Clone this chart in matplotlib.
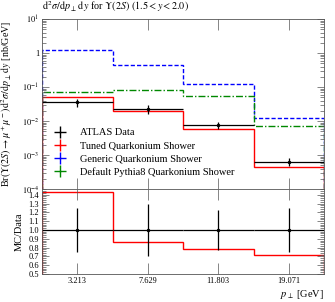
import numpy as np
import matplotlib
matplotlib.use("Agg")
import matplotlib.pyplot as plt
from matplotlib.lines import Line2D
from matplotlib.ticker import FixedLocator, LogLocator, FuncFormatter, MultipleLocator, NullFormatter

plt.rcParams['font.family'] = 'Liberation Serif'
plt.rcParams['mathtext.fontset'] = 'stix'

# bin centres in pT [GeV], drawn as equal width bins
pt_labels = ["3.213", "7.629", "11.803", "19.071"]

data = [0.0352, 0.0225, 0.0076, 0.00064]
data_relerr = [0.245, 0.29, 0.225, 0.25]
tuned = [0.0505, 0.0193, 0.0060, 0.00046]
generic = [1.19, 0.44, 0.122, 0.0122]
default = [0.0713, 0.083, 0.0555, 0.0071]
tuned_ratio = [1.432, 0.86, 0.784, 0.716]

names = ["ATLAS Data", "Tuned Quarkonium Shower", "Generic Quarkonium Shower",
         "Default Pythia8 Quarkonium Shower"]

nb = len(data)
edges = np.arange(nb + 1)
x = np.arange(nb) + 0.5
data = np.array(data)
err = data * np.array(data_relerr)

fig = plt.figure(figsize=(3.35, 3.02), dpi=100)
ax = fig.add_axes([0.1254, 0.374, 0.842, 0.563])
rx = fig.add_axes([0.1254, 0.0927, 0.842, 0.2815], sharex=ax)

red = "#ff0000"
blue = "#0000ff"
green = "#008800"

ax.stairs(generic, edges, color=blue, ls=(0, (3, 1.5)), lw=1.0)
ax.stairs(default, edges, color=green, ls=(0, (5, 1.5, 1, 1.5)), lw=1.0)
ax.stairs(tuned, edges, color=red, lw=1.0)
ax.errorbar(x, data, xerr=0.5, yerr=err, fmt='o', color='black', ms=1.5, lw=0.9, capsize=0)

ax.set_yscale('log')
ax.set_ylim(1e-4, 10)
ax.set_xlim(0, nb)

def logfmt(v, pos):
    e = int(round(np.log10(v)))
    if e == 0:
        return "1"
    return r"$10^{%d}$" % e

ax.yaxis.set_major_locator(LogLocator(base=10, numticks=10))
ax.yaxis.set_minor_locator(LogLocator(base=10, subs=np.arange(2, 10), numticks=20))
ax.yaxis.set_major_formatter(FuncFormatter(logfmt))
ax.yaxis.set_minor_formatter(NullFormatter())

ax.xaxis.set_major_locator(FixedLocator(x))
plt.setp(ax.get_xticklabels(), visible=False)

for a in (ax, rx):
    a.tick_params(which='both', direction='in', top=True, right=True, labelsize=6, width=0.5,
                  color='#555555', pad=2)
    a.tick_params(axis='x', which='major', length=8)
    a.tick_params(axis='y', which='major', length=5)
    a.tick_params(axis='y', which='minor', length=3)
    for s in a.spines.values():
        s.set_linewidth(0.6)
        s.set_color('#555555')

ax.set_ylabel(r"Br$(\Upsilon(2S)\rightarrow\mu^+\mu^-)\mathrm{d}^2\sigma/\mathrm{d}p_\perp\,\mathrm{d}y$ [nb/GeV]", fontsize=7.2)
ax.yaxis.set_label_coords(-0.1, 0.5)

ax.text(0.0, 1.03, r"$\mathrm{d}^2\sigma/\mathrm{d}p_\perp\,\mathrm{d}y$ for $\Upsilon(2S)$ $(1.5 < y < 2.0)$",
        transform=ax.transAxes, fontsize=7.3, ha='left', va='bottom')

handles = [
    Line2D([], [], color='black', marker='+', ms=9, mew=1.0, lw=0),
    Line2D([], [], color=red, marker='+', ms=9, mew=1.0, lw=0),
    Line2D([], [], color=blue, marker='+', ms=9, mew=1.0, lw=0),
    Line2D([], [], color=green, marker='+', ms=9, mew=1.0, lw=0),
]
ax.legend(handles, names, loc='lower left', bbox_to_anchor=(0.02, 0.03), frameon=False,
          fontsize=7.5, handlelength=1.0, handletextpad=1.4, labelspacing=0.35, borderpad=0.2)

# ratio panel
rx.stairs(tuned_ratio, edges, color=red, lw=1.0)
rx.errorbar(x, np.ones(nb), xerr=0.5, yerr=data_relerr, fmt='o', color='black', ms=1.5, lw=0.9, capsize=0)
rx.set_ylim(0.5, 1.465)
rx.set_xlim(0, nb)
rx.yaxis.set_major_locator(MultipleLocator(0.1))
rx.yaxis.set_minor_locator(MultipleLocator(0.02))
rx.yaxis.set_major_formatter(FuncFormatter(lambda v, p: "%.1f" % v))
rx.xaxis.set_major_locator(FixedLocator(x))
rx.set_xticklabels(pt_labels)
rx.set_ylabel("MC/Data", fontsize=7.5)
rx.yaxis.set_label_coords(-0.065, 0.5)
rx.set_xlabel(r"$p_\perp$ [GeV]", fontsize=7.5, loc='right', labelpad=2)

fig.savefig("out.png", dpi=100)
